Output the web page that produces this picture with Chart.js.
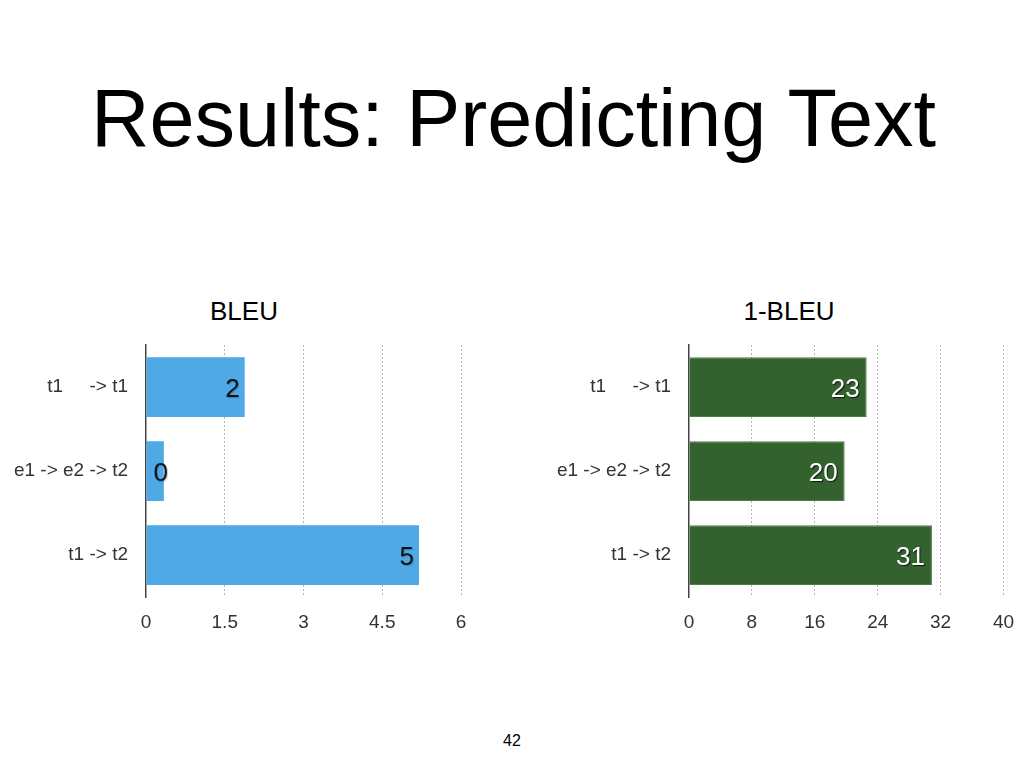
<!DOCTYPE html>
<html><head><meta charset="utf-8">
<script src="https://cdn.jsdelivr.net/npm/chart.js@4/dist/chart.umd.min.js"></script>
<style>
html,body{margin:0;padding:0;background:#fff;width:1024px;height:768px;overflow:hidden;font-family:"Liberation Sans",Arial,sans-serif;}
#title{position:absolute;left:0;width:1027px;top:68px;text-align:center;font-size:81px;line-height:100px;color:#000;white-space:nowrap;}
.sub{position:absolute;top:296px;width:300px;text-align:center;font-size:26px;line-height:30px;color:#000;}
#page{position:absolute;left:0;width:1024px;top:732px;text-align:center;font-size:16px;color:#000;}
.cw{position:absolute;}
</style></head><body>
<div id="title">Results: Predicting Text</div>
<div class="sub" style="left:94px;">BLEU</div>
<div class="sub" style="left:639px;">1-BLEU</div>
<div class="cw" style="left:0px;top:280px;width:488px;height:368px;"><canvas id="c1"></canvas></div>
<div class="cw" style="left:554px;top:280px;width:470px;height:368px;"><canvas id="c2"></canvas></div>
<div id="page">42</div>
<script>
const categories = ["t1     -> t1", "e1 -> e2 -> t2", "t1 -> t2"];
const bleuValues = [1.88, 0.34, 5.2];
const oneBleuValues = [22.6, 19.8, 30.9];
const bleuTicks = [0, 1.5, 3, 4.5, 6];
const oneBleuTicks = [0, 8, 16, 24, 32, 40];

const FONT = '"Liberation Sans", Arial, sans-serif';

const valueLabels = {
  id: 'valueLabels',
  afterDatasetsDraw(chart, args, opts) {
    const ctx = chart.ctx;
    const meta = chart.getDatasetMeta(0);
    ctx.save();
    ctx.font = '26px ' + FONT;
    ctx.textAlign = 'right';
    ctx.textBaseline = 'alphabetic';
    meta.data.forEach((bar, i) => {
      const v = chart.data.datasets[0].data[i];
      const txt = String(Math.round(v));
      const w = ctx.measureText(txt).width;
      const x = Math.max(bar.x - opts.inset, bar.base + 7 + w);
      const y = bar.y + 9.5;
      ctx.shadowColor = opts.shadow ? 'rgba(0,0,0,0.75)' : 'rgba(0,0,0,0.25)';
      ctx.shadowOffsetX = 1; ctx.shadowOffsetY = 1; ctx.shadowBlur = 1;
      ctx.fillStyle = opts.color;
      ctx.fillText(txt, x, y);
    });
    ctx.restore();
  }
};

function makeChart(id, values, ticks, color, border, labelColor, shadow, yWidth, rightPad, inset) {
  const maxV = ticks[ticks.length - 1];
  return new Chart(document.getElementById(id), {
    type: 'bar',
    data: {
      labels: categories,
      datasets: [{
        data: values,
        backgroundColor: color,
        borderColor: border,
        borderWidth: border ? 1 : 0,
        barPercentage: 0.71,
        categoryPercentage: 1.0
      }]
    },
    options: {
      indexAxis: 'y',
      responsive: true,
      maintainAspectRatio: false,
      animation: false,
      layout: { padding: { right: rightPad, bottom: 0, left: 0, top: 65 } },
      plugins: {
        legend: { display: false },
        tooltip: { enabled: false },
        title: { display: false },
        valueLabels: { color: labelColor, shadow: shadow, inset: inset }
      },
      scales: {
        x: {
          min: 0, max: maxV,
          afterBuildTicks(scale) { scale.ticks = ticks.map(v => ({ value: v })); },
          afterFit(scale) { scale.paddingRight = 0; scale.paddingLeft = 0; },
          ticks: {
            color: '#333', padding: 14,
            font: { family: FONT, size: 19 },
            callback: (v) => String(v)
          },
          grid: {
            drawTicks: false,
            color: (c) => c.index === 0 ? 'rgba(0,0,0,0)' : '#b5b5b5',
            lineWidth: 1
          },
          border: { display: false, dash: [2, 2] }
        },
        y: {
          afterFit(scale) { scale.width = yWidth; },
          ticks: {
            color: '#333', padding: 18,
            font: { family: FONT, size: 19 }
          },
          grid: { display: false, drawTicks: false },
          border: { display: true, color: '#444', width: 1.5 }
        }
      }
    },
    plugins: [valueLabels]
  });
}

Chart.defaults.font.family = FONT;
const c1 = makeChart('c1', bleuValues, bleuTicks, '#4EA9E6', null, '#111', false, 146, 27, 5);
const c2 = makeChart('c2', oneBleuValues, oneBleuTicks, '#33622E', '#4f7d49', '#fff', true, 135, 20.5, 7);
</script>
</body></html>
